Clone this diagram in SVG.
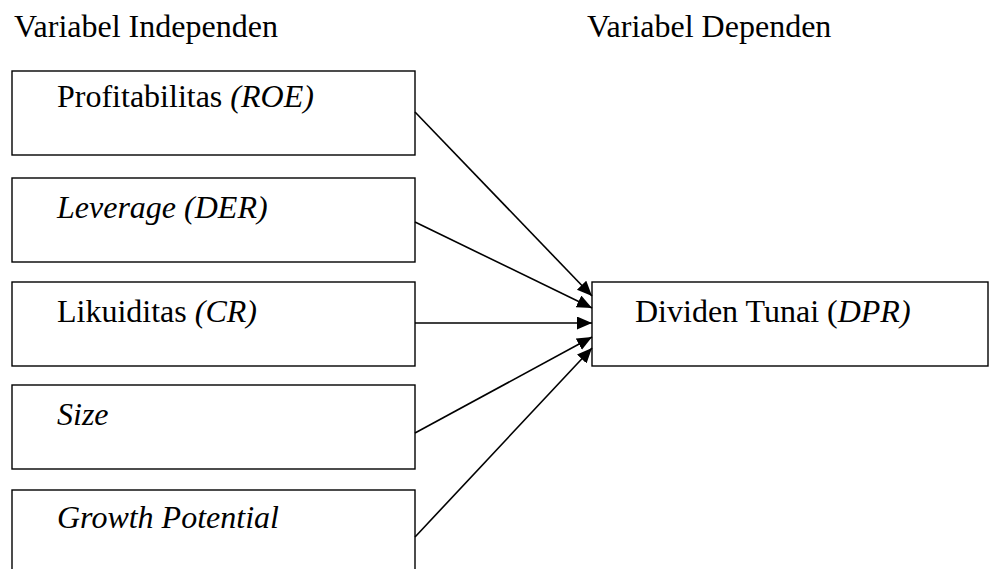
<svg xmlns="http://www.w3.org/2000/svg" width="989" height="569" viewBox="0 0 989 569">
<style>
.box{fill:#fff;stroke:#000;stroke-width:1.4}
.t{font-family:"Liberation Serif","Times New Roman",serif;font-size:32px;fill:#000}
.i{font-style:italic}
.c{stroke:#000;stroke-width:1.6;fill:none}
</style>
<defs>
<marker id="ah" markerUnits="userSpaceOnUse" markerWidth="16" markerHeight="14" refX="15" refY="6.5" orient="auto">
<path d="M0,0 L15,6.5 L0,13 Z" fill="#000"/>
</marker>
</defs>
<rect width="989" height="569" fill="#fff"/>
<text class="t" x="14" y="37">Variabel Independen</text>
<text class="t" x="587" y="37">Variabel Dependen</text>
<g id="n1"><rect class="box" x="12" y="71" width="403" height="84"/><text class="t" x="57" y="107">Profitabilitas <tspan class="i">(ROE)</tspan></text></g>
<g id="n2"><rect class="box" x="12" y="178" width="403" height="84"/><text class="t i" x="57" y="218">Leverage (DER)</text></g>
<g id="n3"><rect class="box" x="12" y="282" width="403" height="84"/><text class="t" x="57" y="322">Likuiditas <tspan class="i">(CR)</tspan></text></g>
<g id="n4"><rect class="box" x="12" y="385" width="403" height="84"/><text class="t i" x="57" y="425">Size</text></g>
<g id="n5"><rect class="box" x="12" y="490" width="403" height="90"/><text class="t i" x="57" y="528">Growth Potential</text></g>
<g id="n6"><rect class="box" x="592" y="282" width="396" height="84"/><text class="t" x="635" y="322">Dividen Tunai (<tspan class="i">DPR)</tspan></text></g>
<g id="connectors">
<line class="c" x1="415" y1="112" x2="592" y2="296" marker-end="url(#ah)"/>
<line class="c" x1="415" y1="222" x2="592" y2="308" marker-end="url(#ah)"/>
<line class="c" x1="415" y1="323" x2="592" y2="323" marker-end="url(#ah)"/>
<line class="c" x1="415" y1="433" x2="592" y2="337" marker-end="url(#ah)"/>
<line class="c" x1="415" y1="537" x2="592" y2="348" marker-end="url(#ah)"/>
</g>
</svg>
